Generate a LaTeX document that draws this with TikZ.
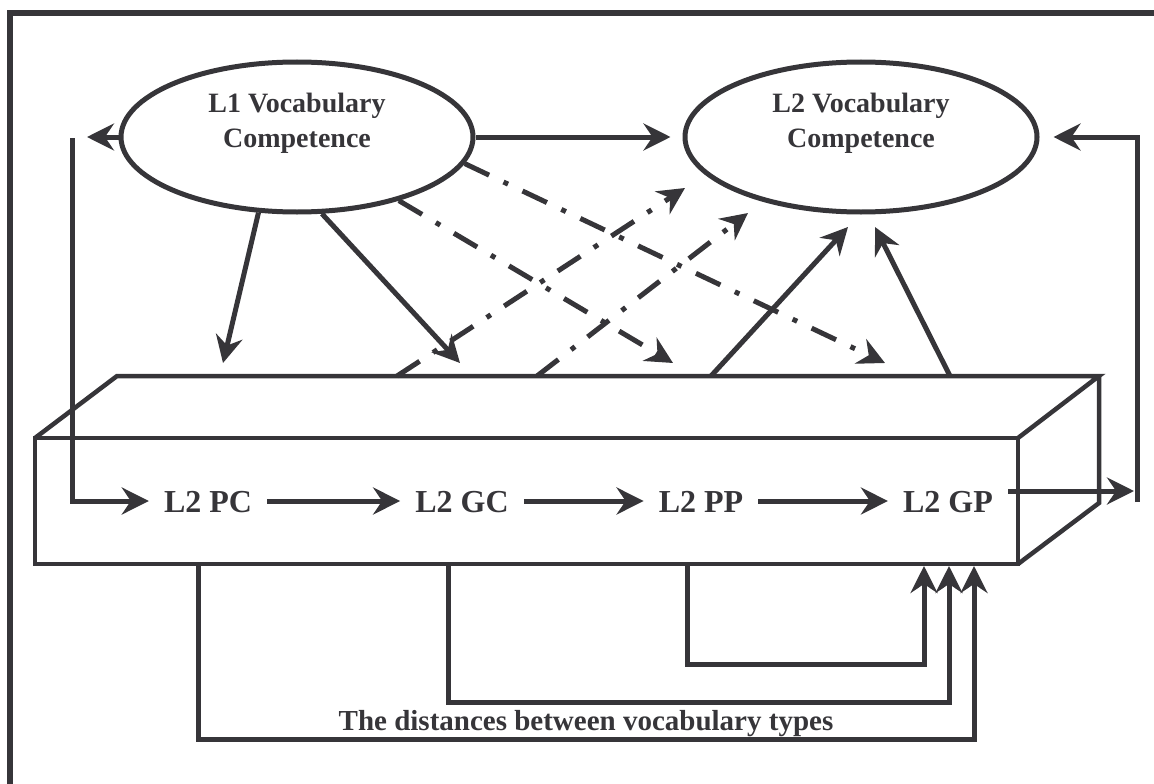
\documentclass[tikz,border=0pt]{standalone}
\usepackage{fontspec}
\setmainfont{Liberation Serif}
\usetikzlibrary{arrows.meta,shapes.geometric}
\definecolor{ink}{RGB}{54,53,57}
\begin{document}
\begin{tikzpicture}[x=1pt,y=-1pt,
  ell/.style={ellipse, draw=ink, line width=5pt, minimum width=352pt, minimum height=150pt, inner sep=0pt},
  etext/.style={text=ink, font=\fontsize{28}{35}\selectfont\bfseries, align=center, inner sep=0pt},
  lab/.style={text=ink, font=\fontsize{32}{38}\selectfont\bfseries, text height=22pt, text depth=0pt, inner xsep=15pt, inner ysep=0pt},
  btext/.style={text=ink, font=\fontsize{29}{34}\selectfont\bfseries, inner sep=0pt},
  arr/.style={draw=ink, line width=5pt, line join=miter, -{Stealth[length=27pt,width=27pt,inset=9pt]}},
  dd/.style={arr, dash pattern=on 27pt off 16pt on 5pt off 16pt},
  boxline/.style={draw=ink, line width=4.5pt, line join=miter},
  frameline/.style={draw=ink, line width=6pt}]
\useasboundingbox (0,0) rectangle (1154,784);
\clip (0,0) rectangle (1154,784);

% outer frame
\draw[frameline] (10,800) -- (10,13) -- (1170,13);

% 3D box
\draw[boxline] (35,438) -- (117,376) -- (1099,376) -- (1018,438);
\draw[boxline] (1099,376) -- (1099,503) -- (1018,564);
\draw[boxline] (35,438) rectangle (1018,564);

% ellipses
\node[ell] (l1) at (297,137) {};
\node[etext] (l1t) at ([yshift=14pt]l1.center) {L1 Vocabulary\\Competence};
\node[ell] (l2) at (861,137) {};
\node[etext] (l2t) at ([yshift=14pt]l2.center) {L2 Vocabulary\\Competence};

% labels in box
\node[lab] (pc) at (208,501) {L2 PC};
\node[lab] (gc) at (462,501) {L2 GC};
\node[lab] (pp) at (701,501) {L2 PP};
\node[lab] (gp) at (948,501) {L2 GP};

\draw[arr] (pc) -- (gc);
\draw[arr] (gc) -- (pp);
\draw[arr] (pp) -- (gp);

% coordinates
\coordinate (l1tip) at (87,137);
\coordinate (lt) at (72,138);
\coordinate (rt) at (1137,137);
\coordinate (rb) at (1137,502);
\coordinate (gpend) at (1134,491);
\coordinate (d1e) at (223,363);
\coordinate (d2e) at (460,363);
\coordinate (dd1e) at (673,363);
\coordinate (dd2e) at (885,363);
\coordinate (u1s) at (397,376);
\coordinate (u1e) at (685,188);
\coordinate (u2s) at (537,376);
\coordinate (u2e) at (748,213);
\coordinate (s1s) at (711,376);
\coordinate (s1e) at (848,227);
\coordinate (s2s) at (950,376);
\coordinate (s2e) at (875,227);
\coordinate (ob) at (198,564);
\coordinate (oe) at (974,566);
\coordinate (mb) at (448,564);
\coordinate (me) at (949,566);
\coordinate (ib) at (687,564);
\coordinate (ie) at (924,566);

% top connectors
\draw[arr] (l1.west) -- (l1tip);
\draw[arr, shorten >=12pt] (l1.east) -- (l2.west);
\draw[arr, shorten >=14pt] (rb) -- (rt) -- (l2.east);
\draw[arr] (lt) |- (pc.west);
\draw[arr] ([yshift=10pt]gp.east) -- (gpend);

% L1 to box
\draw[arr] (l1.243.4) -- (d1e);
\draw[arr] (l1.288.9) -- (d2e);
\draw[dd] (l1.328.6) -- (dd1e);
\draw[dd] (l1.351.1) -- (dd2e);

% box to L2
\draw[dd] (u1s) -- (u1e);
\draw[dd] (u2s) -- (u2e);
\draw[arr] (s1s) -- (s1e);
\draw[arr] (s2s) -- (s2e);

% bottom distances
\draw[arr] (ob) -- ++(0,175) -| (oe);
\draw[arr] (mb) -- ++(0,138) -| (me);
\draw[arr] (ib) -- ++(0,100) -| (ie);
\node[btext, anchor=base] (dist) at (586,730) {The distances between vocabulary types};
\end{tikzpicture}
\end{document}
